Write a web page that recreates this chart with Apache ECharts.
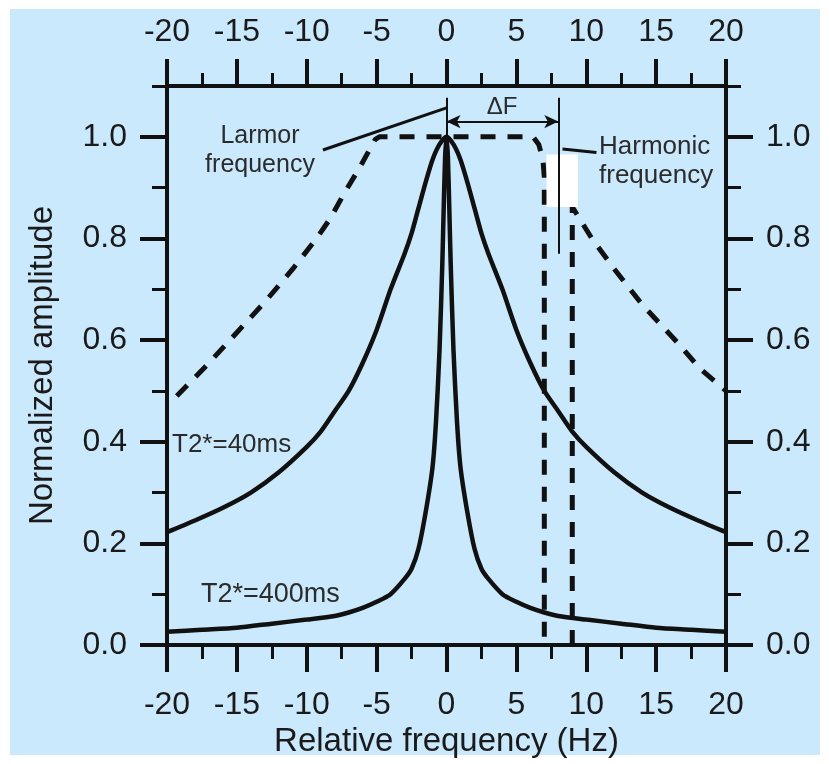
<!DOCTYPE html>
<html>
<head>
<meta charset="utf-8">
<script src="https://cdn.jsdelivr.net/npm/echarts@6/dist/echarts.min.js"></script>
<style>
html, body { margin: 0; padding: 0; background: #fff; }
#chart { width: 829px; height: 764px; }
</style>
</head>
<body>
<div id="chart"></div>
<script>
// T2*=40ms (broad curve)
var wideFreq = [-20, -18, -16, -14, -12, -10, -9, -8, -7, -6, -5, -4, -3, -2.5, -2, -1.5, -1, -0.5, 0,
                0.5, 1, 1.5, 2, 2.5, 3, 4, 5, 6, 7, 8, 9, 10, 12, 14, 16, 18, 20];
var wideAmp = [0.222, 0.245, 0.27, 0.30, 0.34, 0.39, 0.42, 0.46, 0.50, 0.555, 0.62, 0.70, 0.77, 0.81, 0.86, 0.91, 0.955, 0.985, 1.0,
               0.985, 0.955, 0.91, 0.86, 0.81, 0.77, 0.70, 0.62, 0.555, 0.50, 0.46, 0.42, 0.39, 0.34, 0.30, 0.27, 0.245, 0.222];

// T2*=400ms (narrow curve)
var narrowFreq = [-20, -17.5, -15, -12.5, -10, -8, -7, -6, -5, -4, -3, -2.5, -2, -1.5, -1, -0.75, -0.5, -0.3, -0.2, -0.1, 0,
                  0.1, 0.2, 0.3, 0.5, 0.75, 1, 1.5, 2, 2.5, 3, 4, 5, 6, 7, 8, 10, 12.5, 15, 17.5, 20];
var narrowAmp = [0.026, 0.030, 0.034, 0.042, 0.050, 0.057, 0.064, 0.073, 0.085, 0.10, 0.13, 0.15, 0.19, 0.26, 0.35, 0.44, 0.58, 0.75, 0.86, 0.96, 1.0,
                 0.96, 0.86, 0.75, 0.58, 0.44, 0.35, 0.26, 0.19, 0.15, 0.13, 0.10, 0.085, 0.073, 0.064, 0.057, 0.050, 0.042, 0.034, 0.030, 0.026];

// dashed response, left part (drops at 7 Hz)
var dashLeftFreq = [-19.3, -17, -15, -13, -11, -9.3, -8.3, -7.3, -6.2, -5.5, -5.1, -4.8, 6.2, 6.6, 6.9, 7, 7];
var dashLeftAmp = [0.49, 0.555, 0.615, 0.675, 0.74, 0.80, 0.84, 0.89, 0.94, 0.975, 0.995, 1.0, 1.0, 0.985, 0.955, 0.92, 0];

// dashed response, right part (rises at 9 Hz)
var dashRightFreq = [9, 9, 10.4, 12, 14, 16.7, 18.1, 20];
var dashRightAmp = [0, 0.862, 0.80, 0.74, 0.67, 0.59, 0.545, 0.5];

var yMajor = [0, 0.2, 0.4, 0.6, 0.8, 1.0];
var yMinor = [0.1, 0.3, 0.5, 0.7, 0.9, 1.1];

function pairs(xs, ys) {
    return xs.map(function (x, i) { return [x, ys[i]]; });
}

var FONT = '"Liberation Sans", Arial, sans-serif';
var INK = '#111';

var myChart = echarts.init(document.getElementById('chart'));

function xAxisCfg(pos, tickLen, minorLen, margin) {
    return {
        type: 'value', position: pos, min: -20, max: 20, interval: 5,
        axisLine: { show: true, onZero: false, lineStyle: { color: INK, width: 4 } },
        axisTick: { show: true, inside: false, length: tickLen, lineStyle: { color: INK, width: 4 } },
        minorTick: { show: true, splitNumber: 2, length: minorLen, lineStyle: { color: INK, width: 3 } },
        splitLine: { show: false },
        axisLabel: { show: true, margin: margin, color: '#1a1a1a', fontSize: 32, fontFamily: FONT }
    };
}

function yAxisCfg(pos, showLabel) {
    return {
        type: 'value', position: pos, min: 0, max: 1.1,
        axisLine: { show: true, onZero: false, lineStyle: { color: INK, width: 4 } },
        axisTick: { show: true, inside: false, length: 27, customValues: yMajor, lineStyle: { color: INK, width: 4 } },
        splitLine: { show: false },
        axisLabel: {
            show: showLabel, margin: 40, color: '#1a1a1a', fontSize: 32, fontFamily: FONT,
            customValues: yMajor,
            formatter: function (v) { return v.toFixed(1); }
        }
    };
}

// second axis on each side just for the short 0.1 ticks
function yMinorCfg(pos) {
    return {
        type: 'value', position: pos, min: 0, max: 1.1,
        axisLine: { show: false, onZero: false },
        axisTick: { show: true, inside: false, length: 15, customValues: yMinor, lineStyle: { color: INK, width: 3 } },
        splitLine: { show: false },
        axisLabel: { show: false }
    };
}

var xBottom = xAxisCfg('bottom', 27, 14, 44);
xBottom.name = 'Relative frequency (Hz)';
xBottom.nameLocation = 'middle';
xBottom.nameGap = 78;
xBottom.nameTextStyle = { color: '#1a1a1a', fontSize: 33, fontFamily: FONT };

var xTop = xAxisCfg('top', 27, 13, 38);

var yLeft = yAxisCfg('left', true);
yLeft.name = 'Normalized amplitude';
yLeft.nameLocation = 'middle';
yLeft.nameGap = 108;
yLeft.nameTextStyle = { color: '#1a1a1a', fontSize: 33, fontFamily: FONT };

var yRight = yAxisCfg('right', true);

var thin = { color: INK, width: 2, type: 'solid' };

myChart.setOption({
    backgroundColor: '#fff',
    animation: false,
    grid: { left: 167, right: 103, top: 86, bottom: 119 },
    xAxis: [xBottom, xTop],
    yAxis: [yLeft, yRight, yMinorCfg('left'), yMinorCfg('right')],
    graphic: [
        { type: 'rect', z: -100, shape: { x: 10, y: 9, width: 810, height: 746 }, style: { fill: '#cbe9fd' } },
        { type: 'text', x: 260, y: 151, style: { text: 'Larmor\nfrequency', font: '25px ' + FONT, fill: '#2b2b2b', align: 'center', verticalAlign: 'middle', lineHeight: 29 } },
        { type: 'text', x: 599, y: 161, style: { text: 'Harmonic\nfrequency', font: '26px ' + FONT, fill: '#2b2b2b', align: 'left', verticalAlign: 'middle', lineHeight: 29 } },
        { type: 'text', x: 502, y: 107, style: { text: '\u0394F', font: '24px ' + FONT, fill: '#2b2b2b', align: 'center', verticalAlign: 'middle' } },
        { type: 'text', x: 172, y: 445, style: { text: 'T2*=40ms', font: '26px ' + FONT, fill: '#2b2b2b', align: 'left', verticalAlign: 'middle' } },
        { type: 'text', x: 201, y: 595, style: { text: 'T2*=400ms', font: '27px ' + FONT, fill: '#2b2b2b', align: 'left', verticalAlign: 'middle' } }
    ],
    series: [
        {
            name: 'filter left', type: 'line', z: 1, symbol: 'none', silent: true,
            data: pairs(dashLeftFreq, dashLeftAmp),
            lineStyle: { color: INK, width: 5, type: [15, 12] }
        },
        {
            name: 'filter right', type: 'line', z: 1, symbol: 'none', silent: true,
            data: pairs(dashRightFreq, dashRightAmp),
            lineStyle: { color: INK, width: 5, type: [15, 12] },
            markArea: {
                silent: true, z: 2,
                itemStyle: { color: '#ffffff', opacity: 1 },
                data: [[{ coord: [7.16, 0.965] }, { coord: [9.4, 0.862] }]]
            }
        },
        {
            name: 'T2*=40ms', type: 'line', z: 3, symbol: 'none', silent: true,
            smooth: 0.25,
            data: pairs(wideFreq, wideAmp),
            lineStyle: { color: INK, width: 4.5 }
        },
        {
            name: 'T2*=400ms', type: 'line', z: 3, symbol: 'none', silent: true,
            smooth: 0.25,
            data: pairs(narrowFreq, narrowAmp),
            lineStyle: { color: INK, width: 4.5 },
            markLine: {
                silent: true, z: 6, symbol: ['none', 'none'], symbolSize: [10, 14],
                label: { show: false },
                lineStyle: thin,
                data: [
                    [{ coord: [0, 1.0] }, { coord: [0, 1.077] }],
                    [{ coord: [8, 0.77] }, { coord: [8, 1.077] }],
                    [{ coord: [0, 1.03], symbol: 'arrow' }, { coord: [8, 1.03], symbol: 'arrow' }],
                    [{ coord: [-8.84, 0.974], lineStyle: { width: 3 } }, { coord: [0, 1.057] }],
                    [{ coord: [8.3, 0.976], lineStyle: { width: 3 } }, { coord: [10.73, 0.969] }]
                ]
            }
        }
    ]
});
</script>
</body>
</html>
